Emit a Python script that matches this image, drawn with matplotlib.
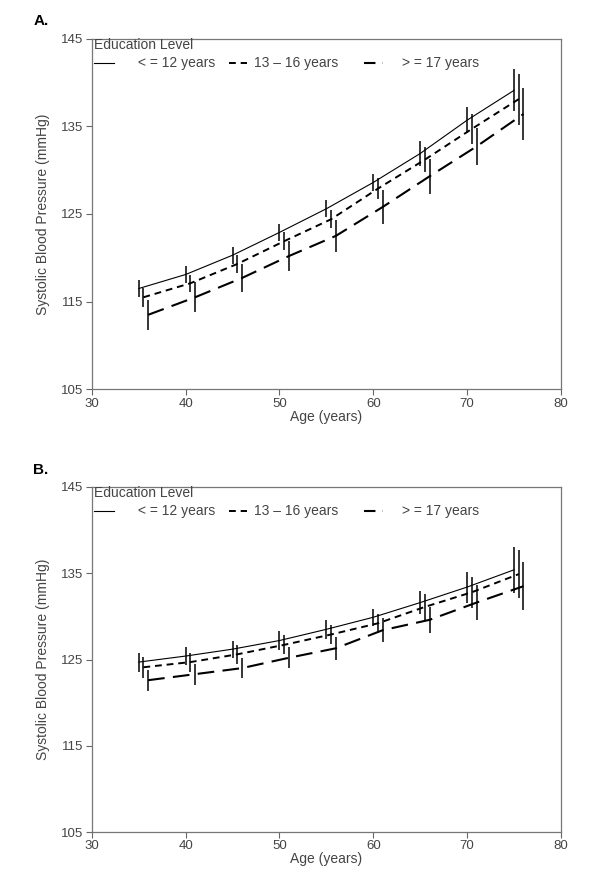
import matplotlib
matplotlib.use("Agg")
import matplotlib.pyplot as plt

plt.rcParams['font.family'] = ['Liberation Sans', 'DejaVu Sans']

# yaş noktaları (gruplar arasında küçük kayma var)
ages = [35, 40, 45, 50, 55, 60, 65, 70, 75]
offsets = [0.0, 0.5, 1.0]

legend_title = "Education Level"
group_labels = ["< = 12 years", "13 \u2013 16 years", "> = 17 years"]

# Panel A: ortalamalar ve hata çubuğu yarı-genişlikleri
a_low = [116.5, 118.1, 120.3, 122.9, 125.6, 128.6, 131.9, 135.7, 139.1]
a_low_err = [1.0, 1.0, 0.95, 0.95, 1.0, 1.0, 1.4, 1.5, 2.4]
a_mid = [115.5, 117.1, 119.3, 121.9, 124.4, 127.9, 131.2, 134.7, 138.1]
a_mid_err = [1.05, 0.95, 1.05, 1.05, 1.0, 1.2, 1.4, 1.7, 2.9]
a_high = [113.5, 115.5, 117.7, 120.2, 122.5, 125.8, 129.3, 132.7, 136.4]
a_high_err = [1.7, 1.7, 1.6, 1.7, 1.8, 1.9, 2.0, 2.1, 3.0]

# Panel B
b_low = [124.7, 125.4, 126.2, 127.2, 128.5, 129.9, 131.6, 133.4, 135.4]
b_low_err = [1.1, 1.0, 1.0, 1.1, 1.1, 1.0, 1.3, 1.8, 2.7]
b_mid = [124.1, 124.7, 125.6, 126.7, 127.9, 129.2, 131.1, 132.8, 134.9]
b_mid_err = [1.2, 1.1, 1.1, 1.1, 1.1, 1.1, 1.5, 1.8, 2.8]
b_high = [122.6, 123.3, 124.0, 125.2, 126.3, 128.4, 129.6, 131.6, 133.5]
b_high_err = [1.2, 1.2, 1.2, 1.2, 1.3, 1.4, 1.5, 2.0, 2.8]

x_ticks = [30, 40, 50, 60, 70, 80]
y_ticks = [105, 115, 125, 135, 145]

styles = [
    dict(lw=0.8, ls='-'),
    dict(lw=1.4, ls=(0, (3.5, 2.5))),
    dict(lw=1.5, ls=(0, (8, 4))),
]
# lejant örneklerinde kesik desen biraz kısalıyor
legend_styles = [
    dict(lw=0.8, ls='-'),
    dict(lw=1.4, ls=(0, (3.5, 2.5))),
    dict(lw=1.5, ls=(0, (5.5, 3.5, 0.6, 10))),
]
text_color = '#444444'

# lejant yerleşimi (eksen kesri olarak)
sample_x = [(0.004, 0.047), (0.292, 0.330), (0.580, 0.620)]
label_x = [0.098, 0.345, 0.662]


def draw_panel(ax, series, errors, tag):
    for i, (vals, errs) in enumerate(zip(series, errors)):
        xs = [a + offsets[i] for a in ages]
        ax.plot(xs, vals, color='black', **styles[i])
        ax.vlines(xs, [v - e for v, e in zip(vals, errs)],
                  [v + e for v, e in zip(vals, errs)], color='black', lw=1.1)

    ax.set_xlim(30, 80)
    ax.set_ylim(105, 145)
    ax.set_xticks(x_ticks)
    ax.set_yticks(y_ticks)
    ax.tick_params(direction='out', length=4, width=0.8, colors='#666666',
                   labelcolor=text_color, labelsize=9.5, pad=2)
    for sp in ax.spines.values():
        sp.set_color('#777777')
        sp.set_linewidth(0.9)
    ax.set_xlabel("Age (years)", color=text_color, fontsize=10, labelpad=0)
    ax.set_ylabel("Systolic Blood Pressure (mmHg)", color=text_color, fontsize=10, labelpad=8)

    # elle çizilen lejant
    ax.text(0.004, 0.982, legend_title, transform=ax.transAxes, fontsize=10,
            color=text_color, ha='left', va='center')
    for i in range(3):
        ax.plot(sample_x[i], [0.93, 0.93], transform=ax.transAxes,
                color='black', **legend_styles[i])
        ax.text(label_x[i], 0.93, group_labels[i], transform=ax.transAxes,
                fontsize=10, color=text_color, ha='left', va='center')

    ax.text(-0.125, 1.05, tag, transform=ax.transAxes, fontsize=11,
            fontweight='bold', ha='left', va='center')


fig = plt.figure(figsize=(6, 8.77), dpi=100)
ax1 = fig.add_axes([0.153, 0.556, 0.782, 0.4])
ax2 = fig.add_axes([0.153, 0.0513, 0.782, 0.3934])

draw_panel(ax1, [a_low, a_mid, a_high], [a_low_err, a_mid_err, a_high_err], "A.")
draw_panel(ax2, [b_low, b_mid, b_high], [b_low_err, b_mid_err, b_high_err], "B.")

fig.savefig("out.png", dpi=100)
